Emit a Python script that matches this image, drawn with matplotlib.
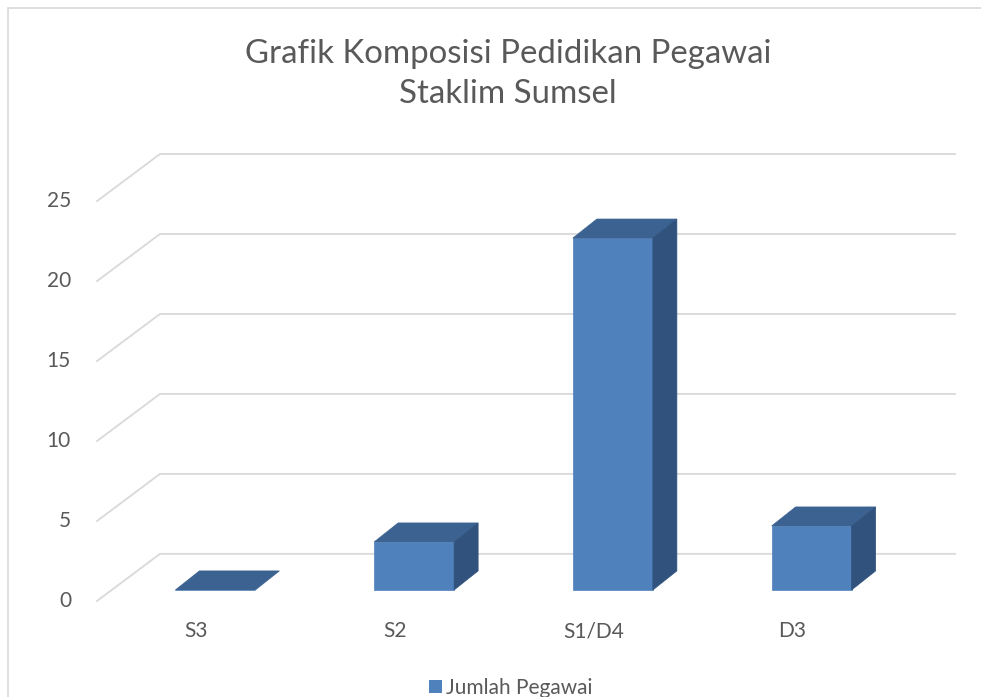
import matplotlib.pyplot as plt
from matplotlib.patches import Polygon, Patch, Rectangle

categories = ['S3', 'S2', 'S1/D4', 'D3']
jumlah = [0, 3, 22, 4]
y_ticks = [0, 5, 10, 15, 20, 25]
title = 'Grafik Komposisi Pedidikan Pegawai\nStaklim Sumsel'
series_name = 'Jumlah Pegawai'

plt.rcParams['font.family'] = ['Lato', 'DejaVu Sans']
text_col = '#595959'
grid_col = '#d9d9d9'
front_col = '#4f81bd'
top_col = '#3b6291'
side_col = '#30527c'

W, H = 981, 697
fig = plt.figure(figsize=(W / 100, H / 100), dpi=100)

# plot area, pixels (front-left floor corner -> back-right top)
x0, y0 = 97, 601
x1, y1 = 955, 154
px_x = (892 - x0) / len(categories)
px_y = 15.95
wall_dx, wall_dy = 63 / px_x, 47 / px_y
ax = fig.add_axes([x0 / W, 1 - y0 / H, (x1 - x0) / W, (y0 - y1) / H])
ax.set_xlim(0, len(categories) + wall_dx)
ax.set_ylim(0, max(y_ticks) + wall_dy)
ax.set_axis_off()

# side wall diagonals + back wall grid
for v in y_ticks:
    ax.plot([0, wall_dx, len(categories) + wall_dx], [v, v + wall_dy, v + wall_dy],
            color=grid_col, lw=1.3, zorder=1, clip_on=False)
    ax.text(-26 / px_x, v, str(v), ha='right', va='center', fontsize=15, color=text_col)

for i, c in enumerate(categories):
    ax.text(i + 0.5, -30 / px_y, c, ha='center', va='center', fontsize=15, color=text_col)

# bars as pseudo 3D boxes
off_x, off_y = 19 / px_x, 11 / px_y
dep_x, dep_y = 24 / px_x, 19 / px_y
bw = 80 / px_x
for i, v in enumerate(jumlah):
    left = i + 0.5 - bw / 2 + off_x
    base = off_y
    ax.bar(left, v, width=bw, bottom=base, align='edge', color=front_col,
           edgecolor=front_col, lw=0.5, zorder=3)
    top = base + v
    ax.add_patch(Polygon([(left, top), (left + bw, top), (left + bw + dep_x, top + dep_y),
                          (left + dep_x, top + dep_y)], closed=True,
                         facecolor=top_col, edgecolor=top_col, lw=0.5, zorder=3))
    if v > 0:
        ax.add_patch(Polygon([(left + bw, base), (left + bw + dep_x, base + dep_y),
                              (left + bw + dep_x, top + dep_y), (left + bw, top)], closed=True,
                             facecolor=side_col, edgecolor=side_col, lw=0.5, zorder=3))

fig.text(508 / W, 1 - 74 / H, title, ha='center', va='center', fontsize=23.8,
         color=text_col, linespacing=1.42)

fig.legend(handles=[Patch(facecolor=front_col)], labels=[series_name], loc='center left',
           bbox_to_anchor=(419 / W, 1 - 688 / H), frameon=False, fontsize=15,
           handlelength=0.6, handleheight=0.6, handletextpad=0.2, borderpad=0,
           labelcolor=text_col)

# chart frame
fig.add_artist(Rectangle((7.5 / W, -0.05), 1.0, 1.05 - 7.5 / H, transform=fig.transFigure,
                         fill=False, edgecolor=grid_col, lw=1.2))

fig.savefig('out.png', dpi=100)
